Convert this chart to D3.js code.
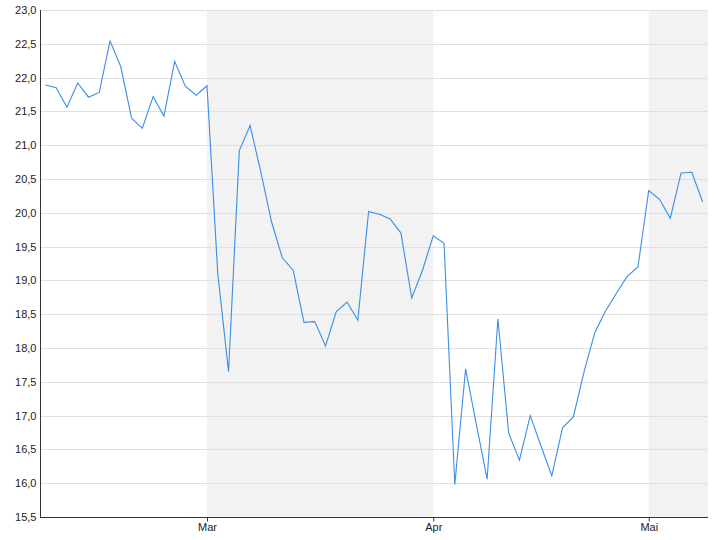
<!DOCTYPE html>
<html>
<head>
<meta charset="utf-8">
<script src="https://cdn.jsdelivr.net/npm/d3@7"></script>
<style>
  html, body { margin: 0; padding: 0; background: #fff; }
  svg { display: block; }
  text { font-family: "Liberation Sans", Arial, sans-serif; }
</style>
</head>
<body>
<svg id="chart" width="720" height="540"></svg>
<script>
// Daily closing values (trading days, index-based)
const values = [
  21.89, 21.85, 21.56, 21.92, 21.71, 21.78, 22.54, 22.16, 21.40, 21.25,
  21.72, 21.43, 22.24, 21.87, 21.74, 21.88, 19.10, 17.65, 20.92, 21.29,
  20.60, 19.86, 19.33, 19.15, 18.38, 18.39, 18.03, 18.54, 18.68, 18.41,
  20.02, 19.98, 19.91, 19.70, 18.74, 19.15, 19.66, 19.55, 15.98, 17.69,
  16.87, 16.06, 18.43, 16.74, 16.34, 17.00, 16.55, 16.11, 16.82, 16.98,
  17.65, 18.23, 18.55, 18.81, 19.06, 19.20, 20.33, 20.20, 19.92, 20.59,
  20.60, 20.16
];
// Month ticks: index of first trading day in month
const monthTickIndex = [15, 36, 56];
const monthTickLabels = ["Mar", "Apr", "Mai"];
// Shaded months (start index, end index or null for end of chart)
const shadedStart = [15, 56];
const shadedEnd = [36, null];
// Y ticks
const yTicks = [15.5, 16.0, 16.5, 17.0, 17.5, 18.0, 18.5, 19.0, 19.5, 20.0, 20.5, 21.0, 21.5, 22.0, 22.5, 23.0];

const svg = d3.select("#chart");
const mLeft = 40, mRight = 708, mTop = 10, mBottom = 517;

const x = d3.scaleLinear().domain([-0.5, values.length - 0.5]).range([mLeft, mRight]);
const y = d3.scaleLinear().domain([15.5, 23.0]).range([mBottom, mTop]);

// Shaded bands
svg.append("g").selectAll("rect")
  .data(shadedStart.map((s, i) => [s, shadedEnd[i]]))
  .join("rect")
  .attr("x", d => x(d[0]))
  .attr("y", mTop)
  .attr("width", d => (d[1] === null ? mRight : x(d[1])) - x(d[0]))
  .attr("height", mBottom - mTop)
  .attr("fill", "#f2f2f2");

// Gridlines
svg.append("g").selectAll("line")
  .data(yTicks.filter(v => v > 15.5))
  .join("line")
  .attr("x1", mLeft).attr("x2", mRight)
  .attr("y1", d => Math.round(y(d)) + 0.5)
  .attr("y2", d => Math.round(y(d)) + 0.5)
  .attr("stroke", "#e0e0e0")
  .attr("stroke-width", 1);

// Y axis
const fmt = v => d3.format(".1f")(v).replace(".", ",");
const yAxis = svg.append("g")
  .attr("transform", `translate(${mLeft + 0.5},0)`)
  .call(d3.axisLeft(y).tickValues(yTicks).tickFormat(fmt).tickSize(0).tickPadding(4));
yAxis.select(".domain").attr("stroke", "#333").attr("d", `M0,${mTop}V${mBottom}`);
yAxis.selectAll("text").attr("font-size", 11).attr("fill", "#222")
  .attr("font-family", "'Liberation Sans', Arial, sans-serif");

// X axis
const xAxis = svg.append("g")
  .attr("transform", `translate(0,${mBottom + 0.5})`)
  .call(d3.axisBottom(x).tickValues(monthTickIndex)
    .tickFormat((d, i) => monthTickLabels[i]).tickSize(4).tickPadding(2));
xAxis.select(".domain").attr("stroke", "#333").attr("d", `M${mLeft},0H${mRight}`);
xAxis.selectAll(".tick line").attr("stroke", "#333");
xAxis.selectAll("text").attr("font-size", 11).attr("fill", "#222")
  .attr("font-family", "'Liberation Sans', Arial, sans-serif");

// Line
const line = d3.line().x((d, i) => x(i)).y(d => y(d));
svg.append("path")
  .datum(values)
  .attr("d", line)
  .attr("fill", "none")
  .attr("stroke", "#3a8ee6")
  .attr("stroke-width", 1.1)
  .attr("stroke-linejoin", "miter");
</script>
</body>
</html>
